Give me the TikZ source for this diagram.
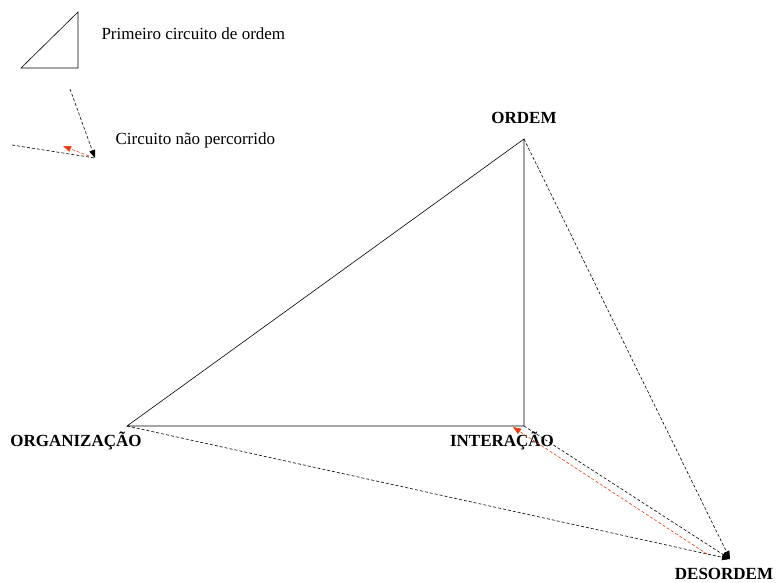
\documentclass[tikz,border=0pt]{standalone}
\usepackage{fontspec}
\setmainfont{Liberation Serif}
\usetikzlibrary{arrows.meta}
\definecolor{circred}{RGB}{240,60,10}
\begin{document}
\begin{tikzpicture}[x=1pt,y=-1pt,
    font=\fontsize{17}{20}\selectfont,
    lbl/.style={font=\fontsize{17}{20}\selectfont\bfseries},
    txt/.style={anchor=west},
    solidline/.style={line width=0.6pt},
    dline/.style={line width=0.6pt,dash pattern=on 3pt off 2pt},
    rline/.style={dline,circred},
    tip/.style={-{Triangle[length=8pt,width=6pt]}}]
\useasboundingbox (0,0) rectangle (777,582);
% Vertices
\coordinate (ordem) at (524,139);
\coordinate (organizacao) at (127,426);
\coordinate (interacao) at (524,426);
\coordinate (desordem) at (730,559);
% Labels
\node[lbl] (lordem) at (524,118) {ORDEM};
\node[lbl] (lorganizacao) at (76,441) {ORGANIZAÇÃO};
\node[lbl] (linteracao) at (502,441) {INTERAÇÃO};
\node[lbl] (ldesordem) at (724,574) {DESORDEM};
% First order circuit
\draw[solidline] (organizacao) -- (ordem) -- (interacao) -- cycle;
% Paths towards disorder
\draw[dline,tip] (ordem) -- (desordem);
\draw[dline,tip] (organizacao) -- (desordem);
\draw[dline,tip] (interacao) -- (desordem);
\draw[rline,tip] ([shift={(-23,-5)}]desordem) -- ([shift={(-11,1)}]interacao);
% Legend
\coordinate (ta) at (21,68);
\coordinate (tb) at (78,12);
\coordinate (tc) at (78,68);
\draw[solidline] (ta) -- (tb) -- (tc) -- cycle;
\node[txt] (lprimeiro) at (98,34) {Primeiro circuito de ordem};
\coordinate (ca) at (70,89);
\coordinate (cb) at (12,145);
\coordinate (cc) at (95,158);
\draw[dline,tip] (ca) -- (cc);
\draw[dline] (cb) -- (cc);
\draw[rline,tip] ([shift={(-6,-2)}]cc) -- ([shift={(-32,-12)}]cc);
\node[txt] (lcircuito) at (112,140) {Circuito não percorrido};
\end{tikzpicture}
\end{document}
